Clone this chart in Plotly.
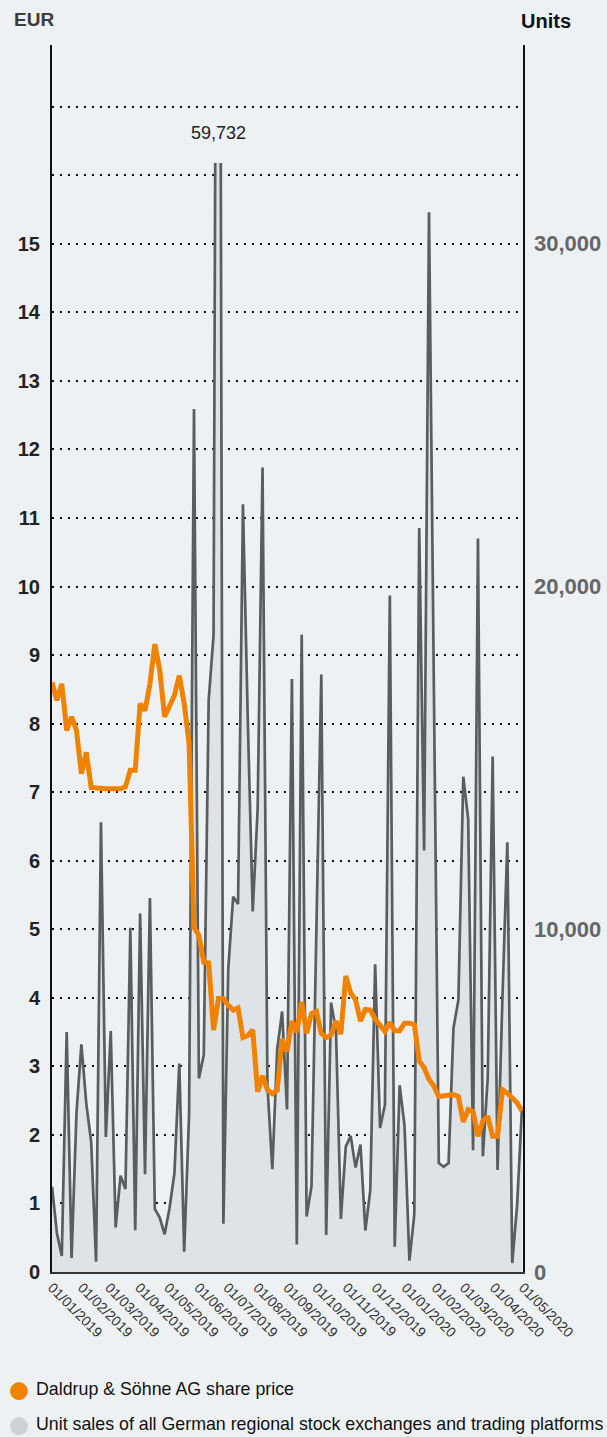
import plotly.graph_objects as go
import pandas as pd

# ---------------- data ----------------
dates = pd.date_range("2019-01-01", "2020-04-30", periods=97)

share_price_eur = [
    8.60, 8.34, 8.58, 7.90, 8.10, 7.90, 7.27, 7.58, 7.07, 7.06,
    7.05, 7.05, 7.05, 7.05, 7.05, 7.08, 7.32, 7.32, 8.29, 8.19,
    8.58, 9.16, 8.78, 8.10, 8.27, 8.41, 8.70, 8.29, 7.71, 5.03,
    4.91, 4.52, 4.51, 3.53, 3.99, 3.99, 3.89, 3.82, 3.85, 3.42,
    3.45, 3.53, 2.63, 2.86, 2.66, 2.60, 2.65, 3.40, 3.22, 3.66,
    3.50, 3.94, 3.48, 3.77, 3.80, 3.48, 3.42, 3.46, 3.66, 3.47,
    4.32, 4.07, 3.97, 3.66, 3.83, 3.82, 3.69, 3.59, 3.51, 3.64,
    3.52, 3.52, 3.63, 3.63, 3.61, 3.08, 2.98, 2.81, 2.71, 2.56,
    2.57, 2.58, 2.59, 2.56, 2.19, 2.37, 2.34, 1.98, 2.20, 2.27,
    1.98, 1.98, 2.66, 2.61, 2.54, 2.47, 2.35,
]

unit_sales = [
    2490, 1140, 470, 7000, 410, 4640, 6640, 4920, 3800, 300,
    13120, 3940, 7030, 1300, 2810, 2420, 10040, 1220, 10460, 2850,
    10910, 1840, 1590, 1100, 1860, 2880, 6080, 590, 4600, 25180,
    5650, 6330, 16680, 18590, 59732, 1410, 8830, 10950, 10740, 22400,
    16030, 10520, 13500, 23470, 5440, 3000, 6500, 7600, 4740, 17300,
    800, 18590, 1620, 2500, 10000, 17430, 1080, 7860, 7050, 1550,
    3660, 3970, 3050, 3720, 1210, 2370, 8980, 4200, 4880, 19740,
    740, 5450, 4270, 330, 1690, 21710, 12300, 30920, 17000, 3180,
    3070, 3180, 7120, 7930, 14450, 13220, 3550, 21400, 3380, 5690,
    15040, 2980, 8000, 12540, 260, 1960, 4810,
]

month_ticks = pd.date_range("2019-01-01", "2020-05-01", freq="MS")
eur_tick_vals = list(range(0, 18))
eur_tick_text = [str(v) for v in range(0, 16)] + ["", ""]
unit_tick_vals = [0, 10000, 20000, 30000]

series_names = ["Daldrup & Söhne AG share price",
                "Unit sales of all German regional stock exchanges and trading platforms"]

EUR_TOP = 17.9          # top of the plotting area in EUR
UNITS_PER_EUR = 2000    # 10,000 units align with 5 EUR
CLIP_EUR = 16.18        # unit sales are cut off at this height

# ---------------- style ----------------
BG = "#edf1f4"
FILL = "#dde3e7"
GRAY = "#5a5d5d"
ORANGE = "#f08200"
FONT = "Liberation Sans, Arial, sans-serif"

W, H = 607, 1437
ML, MR, MT, MB = 52, 84, 45, 165
PW, PH = W - ML - MR, H - MT - MB

def px_y(py):
    return (H - MB - py) / PH

def px_x(px):
    return (px - ML) / PW

fig = go.Figure()

fig.add_trace(go.Scatter(
    x=dates, y=unit_sales, xaxis="x", yaxis="y3", mode="lines",
    line=dict(color=GRAY, width=2.7), fill="tozeroy", fillcolor=FILL,
    name=series_names[1], showlegend=False, hoverinfo="skip",
))
fig.add_trace(go.Scatter(
    x=dates, y=share_price_eur, xaxis="x", yaxis="y4", mode="lines",
    line=dict(color=ORANGE, width=5),
    name=series_names[0], showlegend=False, hoverinfo="skip",
))

fig.update_layout(
    width=W, height=H,
    margin=dict(l=ML, r=MR, t=MT, b=MB, autoexpand=False),
    paper_bgcolor=BG, plot_bgcolor="rgba(0,0,0,0)",
    font=dict(family=FONT, color="#222"),
    showlegend=False,
    xaxis=dict(
        type="date", anchor="y", domain=[0, 1], automargin=False,
        range=[month_ticks[0], month_ticks[-1]],
        tickvals=list(month_ticks), tickformat="%d/%m/%Y",
        tickangle=45, tickfont=dict(size=14, color="#333"),
        showgrid=False, zeroline=False,
        showline=True, linecolor="#333", linewidth=2, ticks="",
    ),
    yaxis=dict(
        range=[0, EUR_TOP], tickvals=eur_tick_vals, ticktext=eur_tick_text,
        automargin=False,
        showgrid=True, gridcolor="#111", gridwidth=2, griddash="2px,6px",
        zeroline=False, showline=True, mirror=True,
        linecolor="#111", linewidth=2,
        ticks="", tickfont=dict(size=20, color="#222", weight="bold"),
        ticklabelstandoff=6,
    ),
    # units axis (right); its domain stops where the unit-sales area is cut off
    yaxis3=dict(
        anchor="x", side="right", domain=[0, CLIP_EUR / EUR_TOP],
        range=[0, CLIP_EUR * UNITS_PER_EUR], automargin=False,
        tickvals=unit_tick_vals, tickformat=",",
        showgrid=False, zeroline=False, showline=False, ticks="",
        tickfont=dict(size=22, color="#666", weight="bold"),
        ticklabelstandoff=10,
    ),
    yaxis4=dict(
        anchor="x", domain=[0, 1], range=[0, EUR_TOP], visible=False,
    ),
)

spike_idx = unit_sales.index(max(unit_sales))
annotations = [
    dict(x=dates[spike_idx], y=16.62, xref="x", yref="y",
         text=f"{max(unit_sales):,}", showarrow=False,
         font=dict(size=18, color="#222")),
    dict(x=px_x(12), y=px_y(20), xref="paper", yref="paper", xanchor="left",
         yanchor="middle", text="<b>EUR</b>", showarrow=False,
         font=dict(size=19, color="#3c3c3c")),
    dict(x=px_x(519), y=px_y(21), xref="paper", yref="paper", xanchor="left",
         yanchor="middle", text="<b>Units</b>", showarrow=False,
         font=dict(size=20, color="#111")),
]
legend_rows = [(ORANGE, series_names[0], 1389), ("#cfd2d4", series_names[1], 1424)]
for color, label, cy in legend_rows:
    annotations.append(dict(x=px_x(19), y=px_y(cy), xref="paper", yref="paper",
                            xanchor="center", yanchor="middle", text="●",
                            showarrow=False, font=dict(size=23, color=color,
                                                       family="DejaVu Sans")))
    annotations.append(dict(x=px_x(34), y=px_y(cy), xref="paper", yref="paper",
                            xanchor="left", yanchor="middle", text=label,
                            showarrow=False, font=dict(size=17.8, color="#111")))
fig.update_layout(annotations=annotations)

fig.write_html("out.html", config={"displayModeBar": False},
               post_script="document.body.style.margin='0';")
